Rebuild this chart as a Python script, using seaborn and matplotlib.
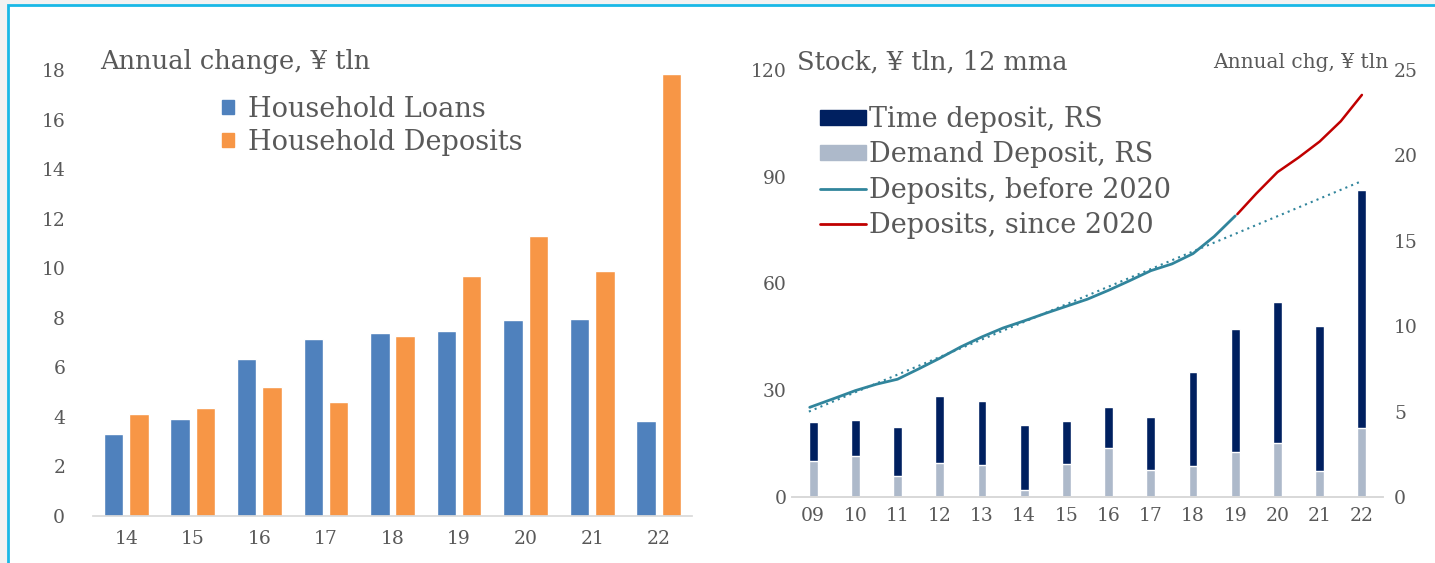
import numpy as np
import pandas as pd
import matplotlib
matplotlib.use("Agg")
import matplotlib.pyplot as plt
from matplotlib.patches import Patch, Rectangle
from matplotlib.lines import Line2D
import seaborn as sns

sns.set_theme(style="white")
plt.rcParams["font.family"] = ["DejaVu Serif", "DejaVu Sans"]
TXT = "#595959"

# left panel: annual change, yen tln
years_l = ["14", "15", "16", "17", "18", "19", "20", "21", "22"]
hh_loans = [3.3, 3.9, 6.35, 7.15, 7.4, 7.45, 7.9, 7.95, 3.85]
hh_deposits = [4.1, 4.35, 5.2, 4.6, 7.25, 9.7, 11.3, 9.9, 17.85]

# right panel: annual change (RS) and stock (LS)
years_r = ["09", "10", "11", "12", "13", "14", "15", "16", "17", "18", "19", "20", "21", "22"]
demand_dep = [2.1, 2.4, 1.25, 2.0, 1.9, 0.4, 1.95, 2.85, 1.6, 1.8, 2.65, 3.15, 1.55, 4.05]
time_dep = [2.3, 2.1, 2.85, 3.9, 3.7, 3.8, 2.5, 2.4, 3.1, 5.5, 7.2, 8.25, 8.45, 13.95]

before_x = [-0.08, 0.5, 1.0, 1.5, 2.0, 2.5, 3.0, 3.5, 4.0, 4.5, 5.0, 5.5, 6.0, 6.5, 7.0, 7.5, 8.0, 8.5, 9.0, 9.5, 10.0]
before_y = [25.2, 27.7, 29.9, 31.7, 33.1, 36.0, 39.0, 42.2, 45.0, 47.5, 49.5, 51.6, 53.6, 55.6, 58.1, 60.8, 63.6, 65.5, 68.4, 73.2, 79.0]
since_x = [10.05, 10.5, 11.0, 11.5, 12.0, 12.5, 13.0]
since_y = [79.5, 85.3, 91.3, 95.4, 99.9, 105.6, 113.0]
trend_x = [-0.1, 13.0]
trend_y = [24.0, 88.8]

fig = plt.figure(figsize=(14.35, 5.63), dpi=100, facecolor="#f2f2f2")
fig.patches.append(Rectangle((8 / 1435, -0.05), 1.1, 1 - 5 / 563 + 0.05, transform=fig.transFigure,
                             facecolor="white", edgecolor="#19b8e6", linewidth=2, zorder=-1))

# ---- left chart
axl = fig.add_axes([93 / 1435, 1 - 516 / 563, 599 / 1435, 446 / 563])
dfl = pd.DataFrame({"year": years_l * 2,
                    "val": hh_loans + hh_deposits,
                    "series": ["Household Loans"] * 9 + ["Household Deposits"] * 9})
sns.barplot(data=dfl, x="year", y="val", hue="series", ax=axl, width=0.76, gap=0.23,
            palette=["#4f81bd", "#f79646"], saturation=1, legend=False)
axl.set_ylim(0, 18)
axl.set_xlim(-0.5, 8.5)
axl.set_yticks(np.arange(0, 19, 2))
axl.set_xlabel(""); axl.set_ylabel("")
axl.patch.set_visible(False)
for s in ["top", "right", "left"]:
    axl.spines[s].set_visible(False)
axl.spines["bottom"].set_color("#d9d9d9")
axl.tick_params(axis="both", length=0, labelsize=13.5, labelcolor=TXT)
axl.tick_params(axis="y", pad=20)
axl.tick_params(axis="x", pad=10)
fig.text(100 / 1435, 1 - 62 / 563, "Annual change, ¥ tln", fontsize=18.5, color=TXT, va="center")
hl = [Patch(color="#4f81bd"), Patch(color="#f79646")]
axl.legend(hl, ["Household Loans", "Household Deposits"], loc="upper left",
           bbox_to_anchor=(0.215, 0.942), frameon=False, fontsize=19.5, labelcolor=TXT,
           borderaxespad=0, borderpad=0,
           handlelength=0.45, handleheight=0.45, handletextpad=0.5, labelspacing=0.22)

# ---- right chart
axr = fig.add_axes([792 / 1435, 1 - 497 / 563, 591 / 1435, 427 / 563])
axr2 = axr.twinx()
total_dep = [d + t for d, t in zip(demand_dep, time_dep)]
sns.barplot(x=years_r, y=total_dep, ax=axr2, color="#002060", width=0.21, saturation=1)
sns.barplot(x=years_r, y=demand_dep, ax=axr2, color="#adb9ca", width=0.21, saturation=1)
sns.lineplot(x=trend_x, y=trend_y, ax=axr, color="#31859c", linestyle=(0, (1, 2)), linewidth=1.5)
sns.lineplot(x=before_x, y=before_y, ax=axr, color="#31859c", linewidth=2)
sns.lineplot(x=since_x, y=since_y, ax=axr, color="#c00000", linewidth=1.8)
axr.set_zorder(axr2.get_zorder() + 1)
axr.patch.set_visible(False)
axr.set_ylim(0, 120)
axr2.set_ylim(0, 25)
axr.set_yticks([0, 30, 60, 90, 120])
axr2.set_yticks([0, 5, 10, 15, 20, 25])
axr.set_xlim(-0.5, 13.5)
axr.set_xticks(range(len(years_r)), years_r)
for a in (axr, axr2):
    a.set_xlabel(""); a.set_ylabel("")
    for s in ["top", "right", "left"]:
        a.spines[s].set_visible(False)
    a.spines["bottom"].set_color("#d9d9d9")
    a.tick_params(axis="both", length=0, labelsize=13.5, labelcolor=TXT)
axr.tick_params(axis="y", pad=4)
axr2.tick_params(axis="y", pad=8)
axr.tick_params(axis="x", pad=7)
fig.text(797 / 1435, 1 - 62 / 563, "Stock, ¥ tln, 12 mma", fontsize=18.5, color=TXT, va="center")
fig.text(1388 / 1435, 1 - 62 / 563, "Annual chg, ¥ tln", fontsize=14.5, color=TXT, va="center", ha="right")
hr = [Patch(color="#002060"), Patch(color="#adb9ca"),
      Line2D([], [], color="#31859c", linewidth=2), Line2D([], [], color="#c00000", linewidth=2)]
axr.legend(hr, ["Time deposit, RS", "Demand Deposit, RS", "Deposits, before 2020", "Deposits, since 2020"],
           loc="upper left", bbox_to_anchor=(0.047, 0.915), frameon=False, fontsize=19.5, labelcolor=TXT,
           borderaxespad=0, borderpad=0,
           handlelength=1.7, handleheight=0.45, handletextpad=0.1, labelspacing=0.3)

fig.savefig("out.png", dpi=100, facecolor=fig.get_facecolor())
